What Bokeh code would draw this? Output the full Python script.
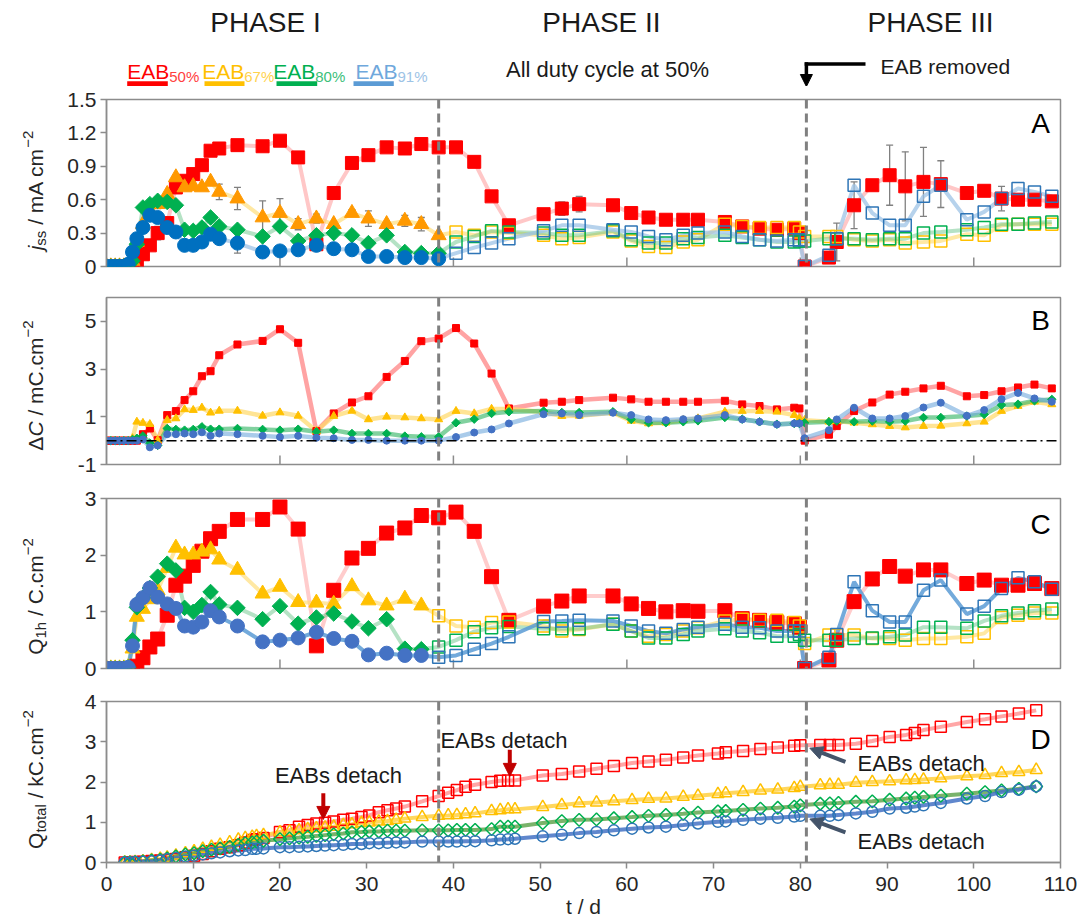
import math
from bokeh.plotting import figure
from bokeh.layouts import column, row
from bokeh.models import (Range1d, FixedTicker, Span, Label, Whisker, TeeHead,
                          ColumnDataSource, Arrow, NormalHead, Spacer)
from bokeh.core.properties import value
from bokeh.embed import file_html
from bokeh.resources import INLINE

FONT = "Liberation Sans"

# ---------------- data ----------------
PHASE_BOUNDS = [38.3, 80.7]
PHASE_NAMES = ["PHASE I", "PHASE II", "PHASE III"]
SERIES = ["50%", "67%", "80%", "91%"]
X_TICKS_D = [0, 10, 20, 30, 40, 50, 60, 70, 80, 90, 100, 110]
X_TICKS_ABC = [20, 40, 60, 80, 100]

# sampling days for panels A, B, C
T = [0, 0.5, 1, 1.5, 2, 2.5, 3, 3.5, 4.2, 5.0,
     5.9, 7.0, 8.0, 9.0, 10.0, 11.0, 12.0, 13.0, 15.1, 18.0,
     20.0, 22.1, 24.2, 26.2, 28.3, 30.2, 32.3, 34.4, 36.3, 38.3,
     40.3, 42.4, 44.4, 46.4, 50.4, 52.5, 54.5, 58.4, 60.5, 62.5,
     64.5, 66.5, 68.2, 71.3, 73.3, 75.3, 77.3, 79.3, 79.9, 80.5,
     83.3, 84.2, 86.2, 88.3, 90.3, 92.1, 94.2, 96.2, 99.2, 101.2,
     103.2, 105.1, 107.0, 109.0]

# Panel A : j_ss (mA cm-2)
JSS_50 = [0, 0, 0, 0, 0, 0, 0.01, 0.04, 0.11, 0.19,
          0.30, 0.39, 0.71, 0.77, 0.83, 0.91, 1.04, 1.06, 1.09, 1.08,
          1.13, 0.98, 0.20, 0.66, 0.93, 1.00, 1.07, 1.06, 1.10, 1.07,
          1.07, 0.94, 0.63, 0.37, 0.47, 0.52, 0.56, 0.55, 0.48, 0.44,
          0.42, 0.42, 0.42, 0.40, 0.36, 0.34, 0.33, 0.34, 0.30, 0.0,
          0.08, 0.22, 0.55, 0.73, 0.82, 0.72, 0.76, 0.74, 0.66, 0.68,
          0.61, 0.60, 0.60, 0.585]
JSS_50_ERR = [0, 0, 0, 0, 0, 0, 0, 0, 0, 0,
              0.06, 0.05, 0, 0, 0, 0, 0, 0, 0, 0,
              0, 0, 0, 0, 0, 0, 0, 0, 0, 0,
              0, 0, 0, 0, 0, 0.06, 0.07, 0.02, 0, 0,
              0, 0, 0, 0, 0, 0, 0, 0, 0, 0,
              0, 0.17, 0.21, 0, 0.27, 0.31, 0.31, 0.21, 0, 0.03,
              0.11, 0, 0, 0]
JSS_67_P1 = [0, 0, 0, 0, 0, 0.01, 0.05, 0.22, 0.38, 0.50,
             0.56, 0.65, 0.80, 0.71, 0.72, 0.71, 0.76, 0.67, 0.61, 0.44,
             0.48, 0.38, 0.43, 0.38, 0.48, 0.43, 0.38, 0.41, 0.38, 0.28]
JSS_67_P1_ERR = [0, 0, 0, 0, 0, 0, 0, 0, 0, 0.05,
                 0.04, 0, 0, 0, 0, 0, 0, 0.07, 0.10, 0.15,
                 0.13, 0.05, 0.04, 0, 0.03, 0.07, 0, 0.05, 0.06, 0]
JSS_67_P23 = [0.31, 0.28, 0.31, 0.30, 0.28, 0.25, 0.26, 0.31, 0.23, 0.18,
              0.17, 0.22, 0.24, 0.38, 0.36, 0.35, 0.35, 0.35, 0.31, 0.27,
              0.27, 0.27, 0.24, 0.23, 0.24, 0.21, 0.22, 0.23, 0.29, 0.28,
              0.37, 0.38, 0.38, 0.38]
JSS_80_P1 = [0, 0, 0, 0, 0, 0.01, 0.05, 0.20, 0.53, 0.56,
             0.59, 0.58, 0.55, 0.33, 0.32, 0.35, 0.44, 0.36, 0.33, 0.27,
             0.36, 0.23, 0.28, 0.30, 0.28, 0.21, 0.28, 0.13, 0.12, 0.12]
JSS_80_P23 = [0.22, 0.27, 0.32, 0.31, 0.30, 0.28, 0.28, 0.32, 0.24, 0.21,
              0.21, 0.25, 0.26, 0.28, 0.26, 0.24, 0.22, 0.22, 0.23, 0.23,
              0.25, 0.25, 0.25, 0.24, 0.25, 0.25, 0.30, 0.31, 0.33, 0.35,
              0.38, 0.38, 0.39, 0.40]
JSS_91_P1 = [0, 0, 0, 0, 0, 0.02, 0.13, 0.25, 0.35, 0.46,
             0.44, 0.35, 0.31, 0.19, 0.19, 0.22, 0.29, 0.25, 0.21, 0.13,
             0.14, 0.15, 0.19, 0.16, 0.15, 0.09, 0.09, 0.08, 0.08, 0.07]
JSS_91_P1_ERR = [0, 0, 0, 0, 0, 0, 0, 0, 0, 0,
                 0, 0, 0, 0, 0, 0, 0, 0.04, 0.09, 0,
                 0, 0, 0, 0, 0, 0, 0, 0, 0, 0]
JSS_91_P23 = [0.12, 0.17, 0.21, 0.25, 0.32, 0.37, 0.37, 0.33, 0.31, 0.27,
              0.24, 0.28, 0.30, 0.31, 0.27, 0.24, 0.23, 0.24, 0.24, 0.0,
              0.10, 0.25, 0.73, 0.48, 0.37, 0.37, 0.63, 0.73, 0.42, 0.49,
              0.61, 0.70, 0.67, 0.63]

# Panel B : delta C (mC cm-2)
DC_50 = [0, 0, 0, 0, 0, 0, 0, 0.0, 0.27, 0.51,
         0.02, 1.07, 1.24, 1.70, 2.07, 2.70, 2.91, 3.58, 4.03, 4.18,
         4.67, 4.10, 0.40, 1.14, 1.60, 1.86, 2.67, 3.34, 4.17, 4.28,
         4.72, 4.07, 2.81, 1.35, 1.59, 1.63, 1.70, 1.80, 1.73, 1.63,
         1.63, 1.63, 1.63, 1.67, 1.52, 1.45, 1.31, 1.38, 1.35, 0.0,
         0.25, 0.61, 1.24, 1.60, 1.93, 2.05, 2.19, 2.30, 1.86, 1.91,
         2.07, 2.23, 2.35, 2.19]
DC_67 = [0, 0, 0, 0, 0, 0, 0.1, 0.79, 0.74, 0.69,
         0.02, 0.86, 0.93, 1.31, 1.28, 1.38, 1.17, 1.25, 1.25, 1.04,
         1.18, 1.04, 0.40, 1.03, 1.25, 0.89, 1.0, 0.97, 0.93, 0.89,
         1.24, 1.14, 1.33, 1.33, 1.20, 1.03, 1.04, 1.17, 0.83, 0.72,
         0.75, 0.86, 0.93, 1.21, 1.24, 1.24, 1.21, 1.07, 0.93, 0.86,
         0.79, 0.82, 0.75, 0.68, 0.61, 0.55, 0.61, 0.62, 0.72, 0.79,
         1.24, 1.45, 1.63, 1.52]
DC_80 = [0, 0, 0, 0, 0, 0, 0.05, 0.1, 0.2, -0.1,
         -0.2, 0.51, 0.47, 0.44, 0.47, 0.58, 0.48, 0.48, 0.51, 0.47,
         0.44, 0.48, 0.37, 0.44, 0.30, 0.30, 0.30, 0.19, 0.16, 0.16,
         0.75, 0.90, 1.14, 1.21, 1.24, 1.18, 1.18, 1.21, 0.89, 0.75,
         0.75, 0.79, 0.83, 0.97, 0.90, 0.79, 0.69, 0.72, 0.72, 0.75,
         0.79, 0.82, 0.79, 0.82, 0.79, 0.82, 0.97, 0.97, 1.03, 1.10,
         1.49, 1.53, 1.67, 1.73]
DC_91 = [0, 0, 0, 0, 0, 0, 0, 0.0, 0.05, -0.28,
         -0.2, 0.27, 0.27, 0.30, 0.27, 0.35, 0.20, 0.30, 0.27, 0.20,
         0.15, 0.20, 0.12, 0.10, 0.03, 0.03, 0.0, 0.0, 0.0, 0.0,
         0.15, 0.34, 0.47, 0.72, 1.11, 1.14, 1.07, 1.17, 1.07, 0.89,
         0.86, 0.90, 0.93, 1.07, 0.89, 0.79, 0.68, 0.72, 0.72, 0.1,
         0.44, 0.89, 1.38, 0.93, 0.93, 1.03, 1.39, 1.59, 1.04, 1.28,
         1.74, 2.0, 1.77, 1.63]

# Panel C : Q_1h (C cm-2)
Q1H_50 = [0, 0, 0, 0, 0, 0, 0.0, 0.04, 0.19, 0.38,
          0.52, 0.94, 1.47, 1.63, 1.82, 2.07, 2.29, 2.42, 2.63, 2.63,
          2.85, 2.46, 0.40, 1.38, 1.95, 2.12, 2.39, 2.48, 2.70, 2.66,
          2.76, 2.42, 1.62, 0.85, 1.10, 1.19, 1.28, 1.28, 1.14, 1.06,
          1.00, 1.02, 1.01, 1.02, 0.88, 0.85, 0.81, 0.79, 0.73, 0.0,
          0.15, 0.50, 1.18, 1.58, 1.80, 1.63, 1.74, 1.74, 1.50, 1.56,
          1.47, 1.47, 1.50, 1.41]
Q1H_67_P1 = [0, 0, 0, 0, 0, 0.02, 0.35, 0.91, 1.05, 1.22,
             1.38, 1.77, 2.13, 2.01, 2.01, 2.06, 2.10, 1.92, 1.74, 1.32,
             1.44, 1.17, 1.16, 1.14, 1.45, 1.20, 1.11, 1.23, 1.11]
Q1H_67_P23 = [0.93, 0.75, 0.73, 0.81, 0.82, 0.75, 0.66, 0.69, 0.78, 0.66,
              0.57, 0.60, 0.66, 0.72, 0.84, 0.87, 0.85, 0.85, 0.81, 0.75,
              0.44, 0.59, 0.59, 0.59, 0.53, 0.53, 0.50, 0.53, 0.53, 0.56,
              0.62, 0.90, 0.94, 0.98, 0.98]
Q1H_80_P1 = [0, 0, 0, 0, 0, 0.02, 0.5, 1.08, 1.25, 1.42,
             1.62, 1.85, 1.73, 1.07, 1.0, 1.12, 1.35, 1.13, 1.07, 0.87,
             1.10, 0.79, 0.90, 0.97, 0.83, 0.71, 0.87, 0.35, 0.34]
Q1H_80_P23 = [0.38, 0.50, 0.65, 0.72, 0.74, 0.70, 0.70, 0.70, 0.78, 0.66,
              0.54, 0.54, 0.60, 0.66, 0.70, 0.66, 0.63, 0.57, 0.57, 0.60,
              0.50, 0.50, 0.50, 0.53, 0.54, 0.56, 0.59, 0.73, 0.73, 0.71,
              0.84, 0.93, 0.98, 1.02, 1.05]
Q1H_91_P1 = [0, 0, 0, 0, 0, 0.02, 0.4, 1.13, 1.25, 1.42,
             1.26, 1.14, 1.06, 0.75, 0.73, 0.82, 1.02, 0.91, 0.75, 0.47,
             0.50, 0.54, 0.64, 0.53, 0.48, 0.24, 0.27, 0.23, 0.23]
Q1H_91_P23 = [0.20, 0.23, 0.34, 0.44, 0.56, 0.83, 0.84, 0.85, 0.84, 0.75,
              0.66, 0.62, 0.69, 0.73, 0.78, 0.73, 0.72, 0.66, 0.66, 0.66,
              0.0, 0.2, 0.6, 1.53, 1.02, 0.82, 0.82, 1.38, 1.56, 0.96,
              1.10, 1.41, 1.60, 1.53, 1.40]

# Panel D : Q_total (kC cm-2)
TD = [2.1, 2.7, 3.3, 4.2, 5.2, 6.2, 7.0, 8.0, 9.1, 10.1,
      11.1, 12.1, 13.1, 14.2, 15.2, 16.0, 16.8, 17.3, 18.1, 20.0,
      21.1, 22.2, 23.2, 24.2, 25.2, 26.2, 27.3, 28.3, 29.4, 30.3,
      31.4, 32.4, 33.4, 34.4, 36.4, 38.3, 39.4, 40.4, 41.4, 42.5,
      44.4, 45.4, 46.3, 47.1, 50.3, 52.5, 54.5, 56.5, 58.5, 60.6,
      62.5, 64.5, 66.5, 68.2, 70.5, 71.4, 73.4, 75.4, 77.4, 79.3,
      80.0, 82.3, 83.4, 84.4, 86.4, 88.3, 90.3, 92.2, 93.2, 94.2,
      96.2, 99.2, 101.3, 103.2, 105.2, 107.2]
QT_50 = [0, 0, 0.01, 0.02, 0.04, 0.05, 0.06, 0.09, 0.13, 0.17,
         0.21, 0.28, 0.34, 0.38, 0.43, 0.50, 0.56, 0.58, 0.61, 0.76,
         0.80, 0.89, 0.93, 0.97, 0.99, 1.02, 1.06, 1.09, 1.13, 1.17,
         1.25, 1.30, 1.34, 1.39, 1.52, 1.65, 1.73, 1.80, 1.88, 1.93,
         2.00, 2.03, 2.04, 2.04, 2.16, 2.20, 2.26, 2.33, 2.40, 2.47,
         2.51, 2.55, 2.61, 2.66, 2.71, 2.74, 2.77, 2.82, 2.86, 2.90,
         2.91, 2.92, 2.92, 2.92, 2.95, 3.02, 3.12, 3.17, 3.22, 3.29,
         3.37, 3.49, 3.56, 3.63, 3.70, 3.78]
QT_67 = [0, 0, 0.01, 0.03, 0.06, 0.09, 0.12, 0.17, 0.23, 0.28,
         0.34, 0.39, 0.44, 0.50, 0.57, 0.61, 0.64, 0.66, 0.68, 0.75,
         0.77, 0.80, 0.83, 0.85, 0.87, 0.89, 0.93, 0.95, 0.98, 0.99,
         1.02, 1.03, 1.06, 1.09, 1.13, 1.16, 1.17, 1.18, 1.20, 1.22,
         1.28, 1.30, 1.32, 1.32, 1.38, 1.43, 1.47, 1.49, 1.52, 1.55,
         1.58, 1.59, 1.63, 1.66, 1.70, 1.72, 1.75, 1.79, 1.81, 1.85,
         1.88, 1.92, 1.93, 1.93, 1.98, 2.00, 2.02, 2.04, 2.05, 2.06,
         2.09, 2.14, 2.17, 2.22, 2.25, 2.30]
QT_80 = [0, 0, 0.01, 0.03, 0.05, 0.07, 0.10, 0.15, 0.20, 0.23,
         0.28, 0.32, 0.35, 0.39, 0.44, 0.48, 0.50, 0.52, 0.54, 0.58,
         0.60, 0.62, 0.64, 0.66, 0.68, 0.70, 0.72, 0.75, 0.76, 0.77,
         0.77, 0.79, 0.79, 0.79, 0.80, 0.80, 0.80, 0.81, 0.81, 0.81,
         0.83, 0.89, 0.89, 0.89, 0.98, 1.03, 1.06, 1.07, 1.10, 1.13,
         1.16, 1.18, 1.21, 1.24, 1.27, 1.28, 1.31, 1.34, 1.36, 1.39,
         1.42, 1.46, 1.47, 1.48, 1.51, 1.52, 1.56, 1.59, 1.61, 1.63,
         1.66, 1.71, 1.75, 1.79, 1.83, 1.89]
QT_91 = [0, 0, 0.01, 0.02, 0.03, 0.05, 0.08, 0.11, 0.15, 0.17,
         0.20, 0.23, 0.25, 0.28, 0.30, 0.31, 0.34, 0.34, 0.35, 0.38,
         0.38, 0.39, 0.40, 0.41, 0.42, 0.43, 0.44, 0.46, 0.46, 0.48,
         0.48, 0.49, 0.50, 0.50, 0.52, 0.52, 0.52, 0.52, 0.53, 0.53,
         0.55, 0.57, 0.58, 0.59, 0.65, 0.69, 0.73, 0.76, 0.80, 0.84,
         0.87, 0.89, 0.93, 0.97, 1.01, 1.02, 1.06, 1.09, 1.11, 1.14,
         1.16, 1.16, 1.16, 1.18, 1.22, 1.26, 1.34, 1.36, 1.39, 1.42,
         1.48, 1.59, 1.65, 1.75, 1.81, 1.89]

# ---------------- layout constants ----------------
TITLE_W = 50          # left strip holding the rotated y titles
PANEL_W = 1036        # TITLE_W + PANEL_W = 1086
BORDER_L = 56         # frame starts at page x = 106
FRAME_W = 954
TOP_B = 13
HDR_H = 86
GRAY = "#8C8C8C"
TXT = "#262626"
RED, YEL, GRN, BLU = "#FF0000", "#FFC000", "#00B050", "#2E75B6"

CW = {' ': 278, '.': 278, '/': 278, '1': 556, '2': 556, 'A': 667, 'C': 722,
      'Q': 778, 'a': 556, 'c': 500, 'h': 556, 'j': 222, 'k': 500, 'l': 222,
      'm': 833, 'o': 556, 's': 500, 't': 278, '\u2212': 584, '\u0394': 668}


def tw(s, size):
    return sum(CW.get(ch, 556) for ch in s) * size / 1000.0


def make_panel(frame_h, border_bottom, y0, y1, yticks, y_over, show_x):
    h = TOP_B + frame_h + border_bottom
    p = figure(width=PANEL_W, height=h,
               x_range=Range1d(0, 110), y_range=Range1d(y0, y1),
               output_backend="svg", toolbar_location=None,
               min_border_left=BORDER_L, min_border_right=PANEL_W - BORDER_L - FRAME_W,
               min_border_top=TOP_B, min_border_bottom=border_bottom)
    p.grid.visible = False
    p.outline_line_color = GRAY
    p.outline_line_width = 1.5
    xa, ya = p.xaxis[0], p.yaxis[0]
    for ax in (xa, ya):
        ax.axis_line_color = GRAY
        ax.axis_line_width = 1.5
        ax.major_tick_line_color = GRAY
        ax.major_tick_line_width = 1.5
        ax.minor_tick_line_color = None
        ax.major_label_text_font = FONT
        ax.major_label_text_font_size = "21px"
        ax.major_label_text_color = TXT
    ya.ticker = FixedTicker(ticks=yticks)
    ya.major_tick_in = 0
    ya.major_tick_out = 6
    ya.major_label_standoff = 4
    if y_over:
        ya.major_label_overrides = y_over
    if show_x:
        xa.ticker = FixedTicker(ticks=X_TICKS_D)
        xa.major_tick_in = 0
        xa.major_tick_out = 6
        xa.major_label_standoff = 8
        xa.axis_label = "t / d"
        xa.axis_label_text_font = FONT
        xa.axis_label_text_font_size = "21px"
        xa.axis_label_text_font_style = "normal"
        xa.axis_label_text_color = TXT
        xa.axis_label_standoff = 1
    else:
        xa.visible = False
        dy = 9 * (y1 - y0) / frame_h
        p.segment(x0=X_TICKS_ABC, x1=X_TICKS_ABC, y0=[y0] * len(X_TICKS_ABC),
                  y1=[y0 + dy] * len(X_TICKS_ABC), line_color=GRAY, line_width=1.5)
    for b in PHASE_BOUNDS:
        p.add_layout(Span(location=b, dimension="height", line_color="#808080",
                          line_width=3, line_dash="9 5"))
    t = figure(width=TITLE_W, height=h,
               x_range=Range1d(0, TITLE_W), y_range=p.y_range,
               output_backend="svg", toolbar_location=None,
               min_border_left=0, min_border_right=0, min_border_top=TOP_B,
               min_border_bottom=border_bottom, x_axis_type=None, y_axis_type=None)
    t.outline_line_color = None
    return t, p


def y_title(t, pieces, center_px, frame_h, y0, y1, base_x=35):
    total = sum(g + tw(s, sz) for s, sz, st, sh, g in pieces)
    pos = center_px - total / 2
    for s, sz, st, sh, g in pieces:
        pos += g
        yd = y0 + pos * (y1 - y0) / frame_h
        t.text(x=[base_x + sh], y=[yd], text=[s], angle=math.pi / 2,
               text_font=value(FONT), text_font_size=f"{sz}px", text_font_style=st,
               text_color=TXT, text_align="left", text_baseline="alphabetic")
        pos += tw(s, sz)


def add_err(p, t, y, e):
    bx, up, lo = [], [], []
    for ti, yi, ei in zip(t, y, e):
        if ei > 0:
            bx.append(ti)
            up.append(yi + ei)
            lo.append(yi - ei)
    src = ColumnDataSource(dict(base=bx, upper=up, lower=lo))
    p.add_layout(Whisker(source=src, base="base", upper="upper", lower="lower",
                         line_color="#808080", line_width=1.3,
                         upper_head=TeeHead(size=7, line_color="#808080", line_width=1.3),
                         lower_head=TeeHead(size=7, line_color="#808080", line_width=1.3)))


def letter(p, txt, x, y):
    p.add_layout(Label(x=x, y=y, text=txt, text_font=FONT, text_font_size="28px",
                       text_color="black", text_align="center", text_baseline="middle"))


# ---------------- header (x: px from frame left, y: page px) ----------------
hdr = figure(width=PANEL_W, height=HDR_H, x_range=Range1d(0, FRAME_W), y_range=Range1d(HDR_H, 0),
             output_backend="svg", toolbar_location=None,
             min_border_left=BORDER_L, min_border_right=PANEL_W - BORDER_L - FRAME_W,
             min_border_top=0, min_border_bottom=0, x_axis_type=None, y_axis_type=None)
hdr.outline_line_color = None
hdr.text(x=[159, 495, 824], y=[22, 22, 22], text=PHASE_NAMES, text_font=value(FONT),
         text_font_size="28px", text_align="center", text_baseline="middle", text_color="#1a1a1a")
leg_x = [20.7, 95.7, 166.7, 249.0]
leg_main = [RED, YEL, GRN, "#6FA8DC"]
leg_sub = ["#FF4040", "#FFD24D", "#3CC07A", "#9DC3E6"]
hdr.text(x=leg_x, y=[70.7] * 4, text=["EAB"] * 4, text_color=leg_main, text_font=value(FONT),
         text_font_size="21px", text_align="left", text_baseline="alphabetic")
hdr.text(x=[v + 42 for v in leg_x], y=[76] * 4, text=SERIES, text_color=leg_sub,
         text_font=value(FONT), text_font_size="15px", text_align="left", text_baseline="alphabetic")
hdr.quad(left=[20.7, 98, 170, 247], right=[61.3, 138, 210.7, 287.3], top=80.7, bottom=86,
         fill_color=[RED, YEL, GRN, "#5B9BD5"], line_color=None)
hdr.text(x=[501], y=[69], text=["All duty cycle at 50%"], text_font=value(FONT),
         text_font_size="22px", text_align="center", text_baseline="middle", text_color="#1a1a1a")
hdr.text(x=[774], y=[66], text=["EAB removed"], text_font=value(FONT),
         text_font_size="21px", text_align="left", text_baseline="middle", text_color="#1a1a1a")
AX = PHASE_BOUNDS[1] / 110.0 * FRAME_W
hdr.line(x=[759, AX - 1.7], y=[63.5, 63.5], line_color="black", line_width=3.5)
hdr.add_layout(Arrow(x_start=AX, y_start=61.8, x_end=AX, y_end=HDR_H, line_color="black",
                     line_width=3.5, end=NormalHead(size=12, fill_color="black", line_color="black")))
hdr_left = Spacer(width=TITLE_W, height=HDR_H)

# ---------------- panel A ----------------
tA, pA = make_panel(167, 18, 0, 1.5, [0, 0.3, 0.6, 0.9, 1.2, 1.5], {0: "0"}, False)
JSS_67 = JSS_67_P1 + JSS_67_P23
JSS_80 = JSS_80_P1 + JSS_80_P23
JSS_91 = JSS_91_P1 + JSS_91_P23
pA.line(T, JSS_50, line_color="#FF9999", line_alpha=0.55, line_width=4)
pA.line(T, JSS_67, line_color="#FFD966", line_alpha=0.6, line_width=4)
pA.line(T, JSS_80, line_color="#5CBF7E", line_alpha=0.45, line_width=4)
pA.line(T, JSS_91, line_color="#9DC3E6", line_alpha=0.75, line_width=4)
add_err(pA, T, JSS_50, JSS_50_ERR)
add_err(pA, T[:30], JSS_67_P1, JSS_67_P1_ERR)
add_err(pA, T[:30], JSS_91_P1, JSS_91_P1_ERR)
pA.scatter(T, JSS_50, marker="square", size=13, fill_color=RED, line_color=RED)
pA.scatter(T[:30], JSS_67_P1, marker="triangle", size=15, fill_color="#FF9900", line_color="#FF9900")
pA.scatter(T[30:], JSS_67_P23, marker="square", size=12, fill_color=None, line_color=YEL, line_width=1.5)
pA.scatter(T[:30], JSS_80_P1, marker="square", angle=math.pi / 4, size=11, fill_color=GRN, line_color=GRN)
pA.scatter(T[30:], JSS_80_P23, marker="square", size=12, fill_color=None, line_color=GRN, line_width=1.5)
pA.scatter(T[:30], JSS_91_P1, marker="circle", size=14, fill_color="#0070C0", line_color="#0070C0")
pA.scatter(T[30:], JSS_91_P23, marker="square", size=12, fill_color=None, line_color=BLU, line_width=1.5)
letter(pA, "A", 107.7, 1.284)
y_title(tA, [("j", 21, "italic", 0, 0), ("ss", 15, "normal", 5, 0),
             ("/ mA cm", 21, "normal", 0, tw(" ", 21)), ("\u22122", 15, "normal", -8, 0)],
        76, 167, 0, 1.5)

# ---------------- panel B ----------------
tB, pB = make_panel(167, 21, -1, 6, [-1, 1, 3, 5], {-1: "-1"}, False)
pB.add_layout(Span(location=0, dimension="width", line_color="black", line_width=1.5,
                   line_dash="10 4 2 4"))
pB.line(T, DC_50, line_color="#FF6666", line_alpha=0.6, line_width=4.5)
pB.line(T, DC_67, line_color="#FFD966", line_alpha=0.7, line_width=4.5)
pB.line(T, DC_80, line_color="#2DB35F", line_alpha=0.6, line_width=4.5)
pB.line(T, DC_91, line_color="#6FA8DC", line_alpha=0.6, line_width=4.5)
pB.scatter(T, DC_50, marker="square", size=7, fill_color=RED, line_color=RED)
pB.scatter(T, DC_67, marker="triangle", size=8, fill_color=YEL, line_color=YEL)
pB.scatter(T, DC_80, marker="square", angle=math.pi / 4, size=6, fill_color=GRN, line_color=GRN)
pB.scatter(T, DC_91, marker="circle", size=7, fill_color="#4472C4", line_color="#4472C4")
letter(pB, "B", 107.7, 5.04)
y_title(tB, [("\u0394", 21, "normal", 0, 0), ("C", 21, "italic", 0, 0),
             ("/ mC.cm", 21, "normal", 0, tw(" ", 21)), ("\u22122", 15, "normal", -8, 0)],
        79, 167, -1, 6)

# ---------------- panel C ----------------
tC, pC = make_panel(170, 20, 0, 3, [0, 1, 2, 3], None, False)
Q1H_67 = Q1H_67_P1 + Q1H_67_P23
Q1H_80 = Q1H_80_P1 + Q1H_80_P23
Q1H_91 = Q1H_91_P1 + Q1H_91_P23
pC.line(T, Q1H_50, line_color="#FF9999", line_alpha=0.5, line_width=4)
pC.line(T, Q1H_67, line_color="#FFD966", line_alpha=0.6, line_width=4)
pC.line(T, Q1H_80, line_color="#5CBF7E", line_alpha=0.45, line_width=4)
pC.line(T, Q1H_91, line_color="#5B9BD5", line_alpha=0.85, line_width=4)
pC.scatter(T, Q1H_50, marker="square", size=14, fill_color=RED, line_color=RED)
pC.scatter(T[:29], Q1H_67_P1, marker="triangle", size=15, fill_color=YEL, line_color=YEL)
pC.scatter(T[29:], Q1H_67_P23, marker="square", size=12, fill_color=None, line_color=YEL, line_width=1.5)
pC.scatter(T[:29], Q1H_80_P1, marker="square", angle=math.pi / 4, size=11, fill_color=GRN, line_color=GRN)
pC.scatter(T[29:], Q1H_80_P23, marker="square", size=12, fill_color=None, line_color=GRN, line_width=1.5)
pC.scatter(T[:29], Q1H_91_P1, marker="circle", size=14, fill_color="#4472C4", line_color="#4472C4")
pC.scatter(T[29:], Q1H_91_P23, marker="square", size=12, fill_color=None, line_color=BLU, line_width=1.5)
letter(pC, "C", 107.7, 2.54)
y_title(tC, [("Q", 21, "normal", 0, 0), ("1h", 15, "normal", 5, 0),
             ("/ C.cm", 21, "normal", 0, tw(" ", 21)), ("\u22122", 15, "normal", -8, 0)],
        72, 170, 0, 3)

# ---------------- panel D ----------------
tD, pD = make_panel(161, 62, 0, 4, [0, 1, 2, 3, 4], None, True)
pD.line(TD, QT_50, line_color="#FF8080", line_alpha=0.7, line_width=4)
pD.line(TD, QT_67, line_color="#FFD34D", line_alpha=0.9, line_width=4)
pD.line(TD, QT_80, line_color="#4E9A3A", line_alpha=0.75, line_width=4)
pD.line(TD, QT_91, line_color="#4472C4", line_alpha=0.85, line_width=4)
pD.scatter(TD, QT_50, marker="square", size=11, fill_color=None, line_color=RED, line_width=1.5)
pD.scatter(TD, QT_67, marker="triangle", size=12, fill_color=None, line_color=YEL, line_width=1.5)
pD.scatter(TD, QT_80, marker="square", angle=math.pi / 4, size=9, fill_color=None, line_color=GRN, line_width=1.5)
pD.scatter(TD, QT_91, marker="circle", size=11, fill_color=None, line_color=BLU, line_width=1.5)
letter(pD, "D", 107.7, 3.06)
y_title(tD, [("Q", 21, "normal", 0, 0), ("total", 15, "normal", 5, 0),
             ("/ kC.cm", 21, "normal", 0, tw(" ", 21)), ("\u22122", 15, "normal", -8, 0)],
        83, 161, 0, 4)
for txt, x, y, al in [("EABs detach", 26.75, 2.15, "center"), ("EABs detach", 38.5, 3.02, "left"),
                      ("EABs detach", 86.6, 2.46, "left"), ("EABs detach", 86.6, 0.52, "left")]:
    pD.add_layout(Label(x=x, y=y, text=txt, text_font=FONT, text_font_size="22px",
                        text_color="#1a1a1a", text_align=al, text_baseline="middle"))
for xs, ys, xe, ye, col in [(25, 1.72, 25, 1.07, "#C00000"), (46.5, 2.80, 46.5, 2.14, "#C00000"),
                            (85.2, 2.50, 81.1, 2.84, "#44546A"), (85.2, 0.75, 81.1, 1.08, "#44546A")]:
    pD.add_layout(Arrow(x_start=xs, y_start=ys, x_end=xe, y_end=ye, line_color=col, line_width=4,
                        end=NormalHead(size=13, fill_color=col, line_color=col)))

layout = column(row(hdr_left, hdr, spacing=0), row(tA, pA, spacing=0), row(tB, pB, spacing=0),
                row(tC, pC, spacing=0), row(tD, pD, spacing=0), spacing=0)
open("out.html", "w").write(file_html(layout, INLINE))
